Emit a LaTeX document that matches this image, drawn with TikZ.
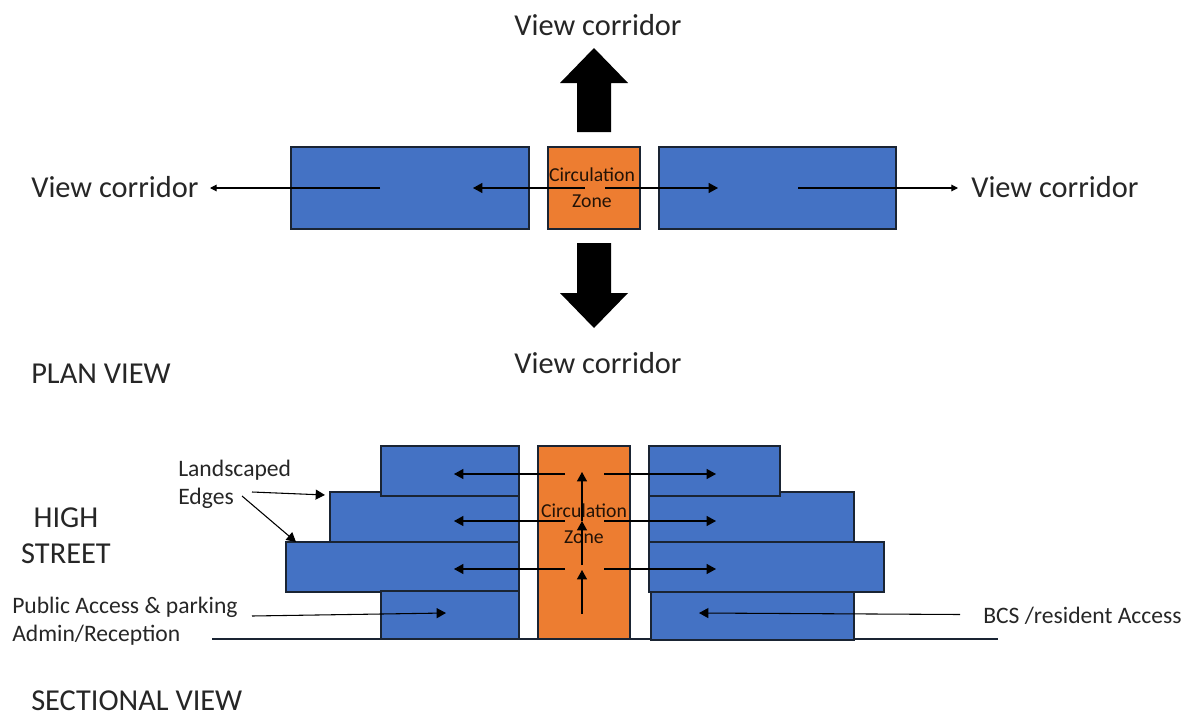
\documentclass[tikz,border=0pt]{standalone}
\usepackage{fontspec}
\setmainfont{Carlito}
\usetikzlibrary{arrows.meta}
\definecolor{blk}{HTML}{4472C4}
\definecolor{org}{HTML}{ED7D31}
\definecolor{edgec}{HTML}{1A2433}
\definecolor{txt}{HTML}{262626}
\tikzset{
  blockbase/.style={draw=edgec,line width=1.35pt,inner sep=0pt,outer sep=0pt,anchor=north west},
  bluebox/.style={blockbase,fill=blk},
  orangebox/.style={blockbase,fill=org},
  viewtext/.style={font=\fontsize{22.8}{26}\selectfont,text=txt,inner sep=0pt},
  headtext/.style={font=\fontsize{22.8}{26}\selectfont,text=txt,inner sep=0pt},
  labeltext/.style={font=\fontsize{17.7}{21}\selectfont,text=txt,inner sep=0pt},
  zonetext/.style={font=\fontsize{14.8}{19.2}\selectfont,text=black!85!org,inner sep=0pt,align=center},
  thinarrow/.style={draw=black,line width=0.8pt,-{Triangle[length=7pt,width=7.5pt]}},
  smallarrow/.style={draw=black,line width=0.8pt,-{Triangle[length=5pt,width=5pt]}},
  bigarrow/.style={fill=black,draw=none},
  groundline/.style={draw=edgec,line width=0.8pt}
}
\newcommand{\bx}[6]{\node[#1,minimum width=#5*0.75pt-#3*0.75pt,minimum height=#6*0.75pt-#4*0.75pt] (#2) at (#3,#4) {};}
\begin{document}
\begin{tikzpicture}[x=0.75pt,y=-0.75pt]
\useasboundingbox (0,0) rectangle (1193,714);

% plan view
\bx{bluebox}{pl}{291}{147}{529}{229}
\bx{orangebox}{pc}{548}{147}{640}{229}
\bx{bluebox}{pr}{659}{147}{896}{229}
\node[zonetext] (pz) at (592,188) {Circulation\\Zone};

\path[bigarrow] (594,48) -- (628,83) -- (611,83) -- (611,132) -- (577,132) -- (577,83) -- (560,83) -- cycle;
\path[bigarrow] (594,328) -- (628,293) -- (611,293) -- (611,243) -- (577,243) -- (577,293) -- (560,293) -- cycle;

\node[viewtext] (vt) at (598,25) {View corridor};
\node[viewtext] (vb) at (598,363) {View corridor};
\node[viewtext,anchor=west] (vl) at (31,187) {View corridor};
\node[viewtext,anchor=west] (vr) at (971,187) {View corridor};
\node[headtext,anchor=west] (planlab) at (31,374) {PLAN VIEW};

\coordinate (a1s) at (380,188); \coordinate (a1e) at (210,188);
\coordinate (a2s) at (585,188); \coordinate (a2e) at (473,188);
\coordinate (a3s) at (605,188); \coordinate (a3e) at (718,188);
\coordinate (a4s) at (798,188); \coordinate (a4e) at (958,188);
\draw[smallarrow] (a1s) -- (a1e);
\draw[thinarrow] (a2s) -- (a2e);
\draw[thinarrow] (a3s) -- (a3e);
\draw[smallarrow] (a4s) -- (a4e);

% sectional view
\coordinate (g1) at (212,639); \coordinate (g2) at (998,639);
\draw[groundline] (g1) -- (g2);

\bx{bluebox}{l2}{330}{492}{519}{542}
\bx{bluebox}{l1}{381}{446}{519}{496}
\bx{bluebox}{l3}{286}{542}{519}{592}
\bx{bluebox}{l4}{381}{591}{519}{639}
\bx{orangebox}{sc}{538}{446}{630}{639}
\bx{bluebox}{r4}{651}{592}{854}{640}
\bx{bluebox}{r2}{649}{492}{854}{542}
\bx{bluebox}{r1}{649}{446}{780}{496}
\bx{bluebox}{r3}{649}{542}{884}{592}
\node[zonetext] (sz) at (584,524) {Circulation\\Zone};

\foreach \y/\n in {474/a,521/b,569/c}{
  \coordinate (ls\n) at (565,\y); \coordinate (le\n) at (454,\y);
  \coordinate (rs\n) at (604,\y); \coordinate (re\n) at (716,\y);
  \draw[thinarrow] (ls\n) -- (le\n);
  \draw[thinarrow] (rs\n) -- (re\n);
}
\coordinate (u1s) at (582,614); \coordinate (u1e) at (582,570);
\coordinate (u2s) at (582,565); \coordinate (u2e) at (582,521);
\coordinate (u3s) at (582,521); \coordinate (u3e) at (582,472);
\draw[thinarrow] (u1s) -- (u1e);
\draw[thinarrow] (u2s) -- (u2e);
\draw[thinarrow] (u3s) -- (u3e);

\node[labeltext,anchor=west] (land) at (178,470.5) {Landscaped};
\node[labeltext,anchor=west] (edges) at (178,498) {Edges};
\coordinate (e1s) at (252,492); \coordinate (e1e) at (325,495);
\coordinate (e2s) at (242,496); \coordinate (e2e) at (296,542);
\draw[thinarrow] (e1s) -- (e1e);
\draw[thinarrow] (e2s) -- (e2e);

\node[headtext] (high) at (66,518) {HIGH};
\node[headtext] (street) at (66,554) {STREET};
\node[labeltext,anchor=west] (pub) at (12,607) {Public Access \& parking};
\node[labeltext,anchor=west] (adm) at (12,635) {Admin/Reception};
\node[labeltext,anchor=west] (bcs) at (983,616) {BCS /resident Access};
\node[headtext,anchor=west] (seclab) at (31,701) {SECTIONAL VIEW};

\coordinate (p1s) at (252,616); \coordinate (p1e) at (446,613);
\coordinate (b1s) at (960,614.5); \coordinate (b1e) at (699,613);
\draw[thinarrow] (p1s) -- (p1e);
\draw[thinarrow] (b1s) -- (b1e);
\end{tikzpicture}
\end{document}
